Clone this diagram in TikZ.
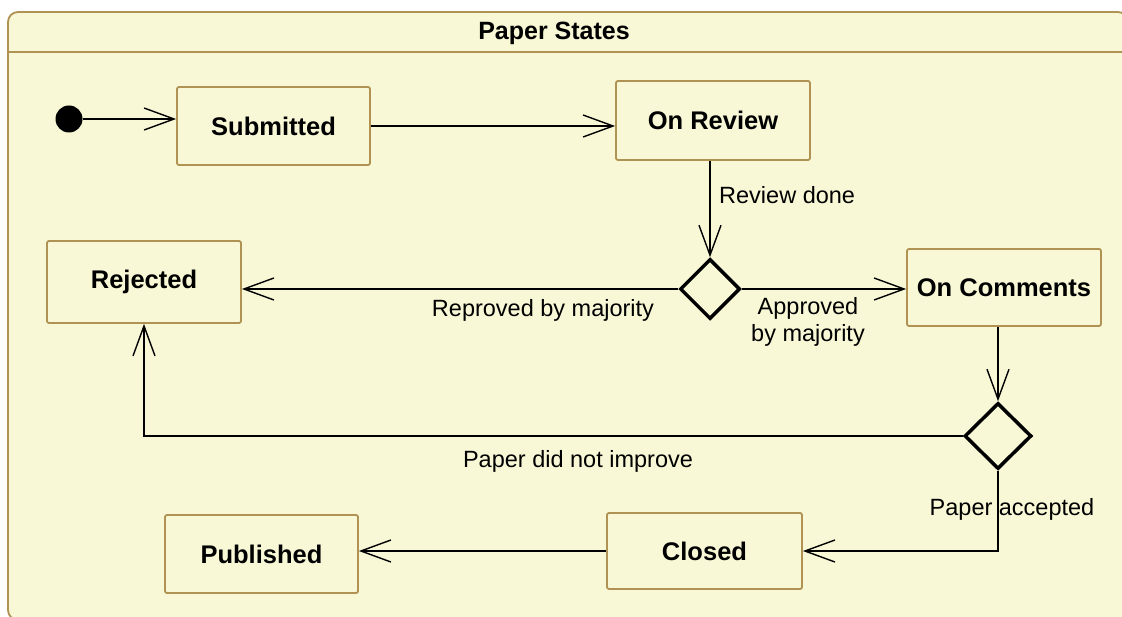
\documentclass[tikz,border=0pt]{standalone}
\usepackage{fontspec}
\setmainfont{Liberation Sans}
\usetikzlibrary{arrows.meta,shapes.geometric}
\definecolor{bgfill}{RGB}{248,248,214}
\definecolor{brd}{RGB}{176,146,82}
\tikzset{
  statebox/.style={draw=brd, fill=bgfill, line width=1.8pt, rounded corners=2pt, inner sep=0pt,
    font=\bfseries\fontsize{25.5}{29}\selectfont},
  choice/.style={diamond, draw=black, fill=bgfill, line width=3.5pt, inner sep=0pt, aspect=1},
  arr/.style={draw=black, line width=1.6pt, -{Straight Barb[length=30pt,width=22pt,line width=1.4pt]}},
  lbl/.style={font=\fontsize{23.5}{27}\selectfont, inner sep=0pt}
}
\begin{document}
\begin{tikzpicture}[x=1pt,y=-1pt]
\useasboundingbox (0,0) rectangle (1122,617);
\fill[white] (0,0) rectangle (1122,617);
\clip (0,0) rectangle (1122,617);
% frame
\draw[draw=brd, fill=bgfill, line width=1.8pt, rounded corners=10pt] (8,12) rectangle (1128,620);
\draw[brd, line width=1.8pt] (8,52) -- (1128,52);
\node[font=\bfseries\fontsize{25}{29}\selectfont] (title) at (554,33) {Paper States};
% states
\node[circle, fill=black, minimum size=27pt, inner sep=0pt] (init) at (69,119) {};
\node[statebox, minimum width=193pt, minimum height=78pt] (sub) at (273.5,126) {Submitted};
\node[statebox, minimum width=194pt, minimum height=79pt] (rev) at (713,120.5) {On Review};
\node[statebox, minimum width=194pt, minimum height=82pt] (rej) at (144,282) {Rejected};
\node[statebox, minimum width=194pt, minimum height=77pt] (com) at (1004,287.5) {On Comments};
\node[statebox, minimum width=195pt, minimum height=76pt] (clo) at (704.5,551) {Closed};
\node[statebox, minimum width=193pt, minimum height=78pt] (pub) at (261.5,554) {Published};
\node[choice, minimum width=60pt, minimum height=60pt] (d1) at (710,289) {};
\node[choice, minimum width=67pt, minimum height=66pt] (d2) at (998,436) {};
% transitions
\draw[arr] (init.east) -- (init.east -| sub.west);
\draw[arr] (sub.east) -- (sub.east -| rev.west);
\draw[arr] (rev.south -| d1.north) -- (d1.north);
\draw[arr] (d1.west) -- (d1.west -| rej.east);
\draw[arr] (d1.east) -- (d1.east -| com.west);
\draw[arr] (com.south -| d2.north) -- (d2.north);
\draw[arr] (d2.west) -| (rej.south);
\draw[arr] (d2.south) |- (clo.east);
\draw[arr] (clo.west) -- (pub.east |- clo.west);
% labels
\node[lbl, anchor=west] (l1) at (719,195) {Review done};
\node[lbl] (l2) at (543,310) {Reproved by majority};
\node[lbl, align=center] (l3) at (808,322) {Approved\\by majority};
\node[lbl] (l4) at (578,461) {Paper did not improve};
\node[lbl] (l5) at (1012,509) {Paper accepted};
\end{tikzpicture}
\end{document}
